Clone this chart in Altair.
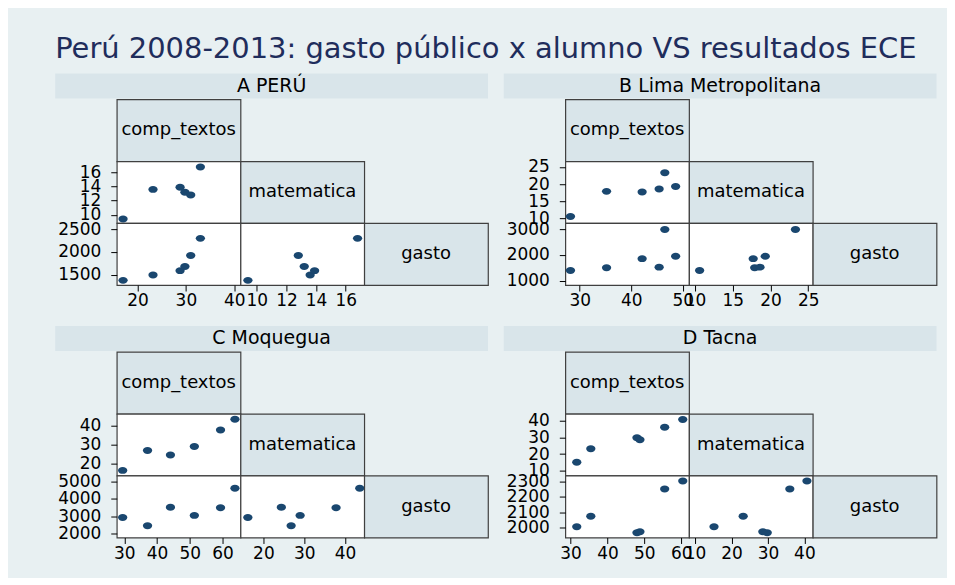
import altair as alt
import pandas as pd

# ---------------- data ----------------
regions = ["A PERÚ", "B Lima Metropolitana", "C Moquegua", "D Tacna"]
variables = ["comp_textos", "matematica", "gasto"]

comp_peru = [17.0, 23.2, 28.8, 29.8, 31.0, 33.0]
mat_peru = [9.4, 13.6, 13.9, 13.2, 12.8, 16.8]
gasto_peru = [1377, 1493, 1590, 1681, 1920, 2297]

comp_lima = [28.2, 35.2, 42.1, 45.4, 46.5, 48.6]
mat_lima = [10.6, 17.9, 17.7, 18.6, 23.3, 19.3]
gasto_lima = [1397, 1500, 1855, 1526, 2987, 1949]

comp_moq = [29.5, 37.1, 44.1, 51.4, 59.4, 63.8]
mat_moq = [16.2, 26.8, 24.4, 29.0, 37.8, 43.6]
gasto_moq = [2923, 2439, 3503, 3039, 3484, 4607]

comp_tacna = [31.7, 35.5, 48.0, 48.8, 55.5, 60.4]
mat_tacna = [15.2, 23.2, 29.8, 28.6, 36.0, 40.7]
gasto_tacna = [2006, 2074, 1967, 1974, 2250, 2302]

# tick labels per region and variable
ticks_peru = {"comp_textos": [20, 30, 40], "matematica": [10, 12, 14, 16], "gasto": [1500, 2000, 2500]}
ticks_lima = {"comp_textos": [30, 40, 50], "matematica": [10, 15, 20, 25], "gasto": [1000, 2000, 3000]}
ticks_moq = {"comp_textos": [30, 40, 50, 60], "matematica": [20, 30, 40], "gasto": [2000, 3000, 4000, 5000]}
ticks_tacna = {"comp_textos": [30, 40, 50, 60], "matematica": [10, 20, 30, 40], "gasto": [2000, 2100, 2200, 2300]}

# ---------------- layout / style settings ----------------
dom_peru = {"comp_textos": [15.7, 41.3], "matematica_y": [8.8, 17.6], "matematica_x": [8.9, 17.25], "gasto": [1275, 2630]}
dom_lima = {"comp_textos": [27.2, 51.2], "matematica_y": [8.7, 26.6], "matematica_x": [9.2, 25.6], "gasto": [833, 3231]}
dom_moq = {"comp_textos": [27.7, 65.5], "matematica_y": [13.4, 46.5], "matematica_x": [14.4, 44.7], "gasto": [1768, 5329]}
dom_tacna = {"comp_textos": [28.6, 62.1], "matematica_y": [7.2, 44.1], "matematica_x": [8.35, 42.3], "gasto": [1937, 2337]}

FONT = "DejaVu Sans"
NAVY = "#1a476f"
BG = "#e8f0f2"
PANEL = "#d9e5ea"
BORDER = "#404040"
W, H = 124, 62
GRID_W = 3 * W
HEADER_LEFT = 61.7     # how far the header bar reaches left of the first cell
HEADER_H = 25
ELLIPSE = "M -1 0 A 1 0.75 0 1 0 1 0 A 1 0.75 0 1 0 -1 0 Z"


def label_cell(name):
    return (
        alt.Chart(pd.DataFrame({"t": [name]}))
        .mark_text(font=FONT, fontSize=18, color="black")
        .encode(text="t:N")
        .properties(width=W, height=H,
                    view=alt.ViewBackground(fill=PANEL, stroke=BORDER, strokeWidth=1.2))
    )


def blank_cell():
    return (
        alt.Chart(pd.DataFrame({"t": [""]}))
        .mark_text()
        .encode(text="t:N")
        .properties(width=W, height=H,
                    view=alt.ViewBackground(fillOpacity=0, strokeOpacity=0))
    )


def scatter_cell(df, xv, yv, xdom, ydom, xticks, yticks, show_x, show_y):
    xaxis = alt.Axis(values=xticks, title=None, format="d") if show_x else None
    yaxis = alt.Axis(values=yticks, title=None, format="d") if show_y else None
    return (
        alt.Chart(df)
        .mark_point(shape=ELLIPSE, filled=True, size=86, color=NAVY, opacity=1)
        .encode(
            x=alt.X(f"{xv}:Q", scale=alt.Scale(domain=xdom, nice=False, zero=False), axis=xaxis),
            y=alt.Y(f"{yv}:Q", scale=alt.Scale(domain=ydom, nice=False, zero=False), axis=yaxis),
        )
        .properties(width=W, height=H,
                    view=alt.ViewBackground(fill="white", stroke=BORDER, strokeWidth=1.2))
    )


def header_bar(title):
    base = alt.Chart(pd.DataFrame({"t": [title]}))
    bar = base.mark_rect(color=PANEL).encode(
        x=alt.value(-HEADER_LEFT), x2=alt.value(GRID_W),
        y=alt.value(0), y2=alt.value(HEADER_H),
    )
    txt = base.mark_text(font=FONT, fontSize=19, color="black").encode(
        text="t:N",
        x=alt.value((GRID_W - HEADER_LEFT) / 2),
        y=alt.value(HEADER_H / 2),
    )
    return alt.layer(bar, txt).properties(
        width=GRID_W, height=HEADER_H,
        view=alt.ViewBackground(fillOpacity=0, strokeOpacity=0),
    )


def region_panel(title, comp, mat, gasto, dom, ticks):
    df = pd.DataFrame({"comp_textos": comp, "matematica": mat, "gasto": gasto})
    cells = [
        label_cell("comp_textos"), blank_cell(), blank_cell(),
        scatter_cell(df, "comp_textos", "matematica", dom["comp_textos"], dom["matematica_y"],
                     ticks["comp_textos"], ticks["matematica"], False, True),
        label_cell("matematica"), blank_cell(),
        scatter_cell(df, "comp_textos", "gasto", dom["comp_textos"], dom["gasto"],
                     ticks["comp_textos"], ticks["gasto"], True, True),
        scatter_cell(df, "matematica", "gasto", dom["matematica_x"], dom["gasto"],
                     ticks["matematica"], ticks["gasto"], True, False),
        label_cell("gasto"),
    ]
    grid = alt.concat(*cells, columns=3, spacing=0, bounds="flush")
    return alt.vconcat(header_bar(title), grid, spacing=0)


pA = region_panel(regions[0], comp_peru, mat_peru, gasto_peru, dom_peru, ticks_peru)
pB = region_panel(regions[1], comp_lima, mat_lima, gasto_lima, dom_lima, ticks_lima)
pC = region_panel(regions[2], comp_moq, mat_moq, gasto_moq, dom_moq, ticks_moq)
pD = region_panel(regions[3], comp_tacna, mat_tacna, gasto_tacna, dom_tacna, ticks_tacna)

chart = (
    alt.vconcat(
        alt.hconcat(pA, pB, spacing=14.5),
        alt.hconcat(pC, pD, spacing=14.5),
        spacing=16,
        title=alt.TitleParams(
            "Perú 2008-2013: gasto público x alumno VS resultados ECE",
            anchor="start", font=FONT, fontSize=29, fontWeight="normal",
            color="#1f2d5c", offset=10,
        ),
    )
    .configure(background=BG, padding={"left": 47, "top": 26, "right": 9, "bottom": 15})
    .configure_axis(
        labelFont=FONT, labelFontSize=17, labelColor="black",
        tickColor="black", tickSize=6, tickWidth=1,
        domain=False, grid=False, labelOverlap=False, labelFlush=False,
    )
    .configure_axisX(labelPadding=2)
    .configure_axisY(labelPadding=10)
)

chart.save("out.html", embed_options={"renderer": "svg", "actions": False})
